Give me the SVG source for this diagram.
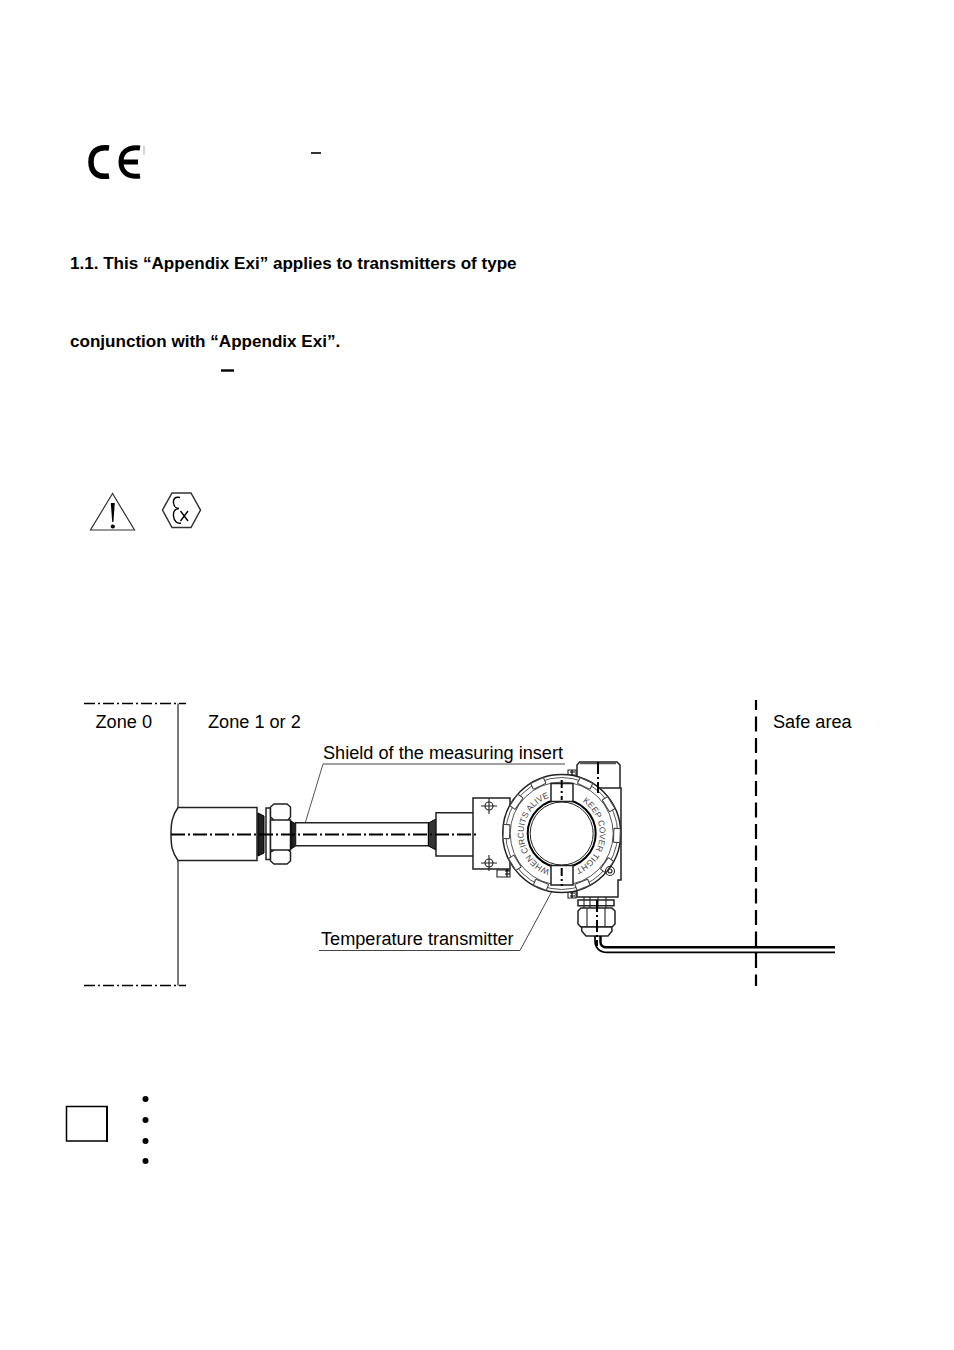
<svg xmlns="http://www.w3.org/2000/svg" width="954" height="1350" viewBox="0 0 954 1350">
<style>
text{font-family:"Liberation Sans",Arial,sans-serif;fill:#000}
.lbl{font-size:18.150px}
.b{font-weight:bold;font-size:17.070px}
.o{fill:#fff;stroke:#222;stroke-width:1.500}
.n{fill:none;stroke:#222;stroke-width:1.100}
.c{fill:none;stroke:#000;stroke-width:2;stroke-dasharray:14 3 2 3}
.cs{fill:none;stroke:#000;stroke-width:1.300;stroke-dasharray:11 3 2 3}
.ring{font-size:8.500px;fill:#444}
.lug{fill:#fff;stroke:#444;stroke-width:1.100}
</style>
<defs>
<rect id="lug" x="-7" y="-58.500" width="14" height="6.500" rx="1"/>
<path id="ringpath" d="M561.700 795.500A38 38 0 1 1 561.700 871.500A38 38 0 1 1 561.700 795.500"/>
</defs>
<rect width="954" height="1350" fill="#fff"/>
<g id="ce-mark">
<path d="M109 148C96 146 91 153 91 162C91 171 96 178 109 176" fill="none" stroke="#000" stroke-width="5.500"/>
<path d="M140 148C127 146 121 153 121 162C121 171 127 178 140 176M121 162H138" fill="none" stroke="#000" stroke-width="5"/>
<path d="M144 146V155" stroke="#bbb" stroke-width="1.200"/>
<path d="M311 153H321" stroke="#000" stroke-width="1.600"/>
</g>
<g id="heading-text">
<text class="b" x="70" y="269">1.1. This “Appendix Exi” applies to transmitters of type</text>
<text class="b" x="70" y="347">conjunction with “Appendix Exi”.</text>
<path d="M221 370.500H234" stroke="#000" stroke-width="2.400"/>
</g>
<g id="warning-icon">
<path d="M112.500 493.500L90.500 530H134.500Z" fill="none" stroke="#333" stroke-width="1.200"/>
<path d="M110.800 503L114.800 503L113.400 522H112.200Z" fill="#000"/>
<circle cx="112.800" cy="526.500" r="2.100" fill="#000"/>
</g>
<g id="ex-icon">
<path d="M172 493H191L200.500 510L191 527.500H172L162.500 510Z" fill="none" stroke="#333" stroke-width="1.500"/>
<path d="M180 497.500C175 496.500 173 499 173.500 503C174 507 177 508.500 179 508.500C175 508.500 173 511.500 173.500 516C174 521 177 524 181 523" fill="none" stroke="#000" stroke-width="1.400"/>
<path d="M180.500 511L188 521M188 511L180.500 521" fill="none" stroke="#000" stroke-width="1.400"/>
</g>
<g id="zone-labels">
<text class="lbl" x="95.500" y="728">Zone 0</text>
<text class="lbl" x="208" y="728">Zone 1 or 2</text>
<text class="lbl" x="773" y="728">Safe area</text>
<text class="lbl" x="323" y="759">Shield of the measuring insert</text>
<text class="lbl" x="321" y="945">Temperature transmitter</text>
</g>
<g id="connectors">
<path d="M84 703.500H186M84 985.500H186" class="cs"/>
<path d="M178 703.500V808M178 861V985.500" fill="none" stroke="#333" stroke-width="1.300"/>
<path d="M756 700V986" fill="none" stroke="#000" stroke-width="2.200" stroke-dasharray="15 6.500" stroke-dashoffset="5"/>
<path d="M323 764H565" fill="none" stroke="#444" stroke-width="1"/>
<path d="M323 764L302.500 832" fill="none" stroke="#555" stroke-width="1"/>
<path d="M319 950.500H520L558 880" fill="none" stroke="#444" stroke-width="1"/>
</g>
<g id="sensor-body">
<path d="M178 807.500H257V860.500H178C172 852 171 846 171 834.500C171 823 172 816 178 807.500Z" class="o"/>
<path d="M258 813L264 816V853L258 856Z" fill="#222" stroke="#000"/>
<rect x="266" y="808" width="4.500" height="51.500" class="o"/>
<path d="M274 804H287L290.500 807V817L288 820H274L270.500 817V807ZM270.500 820H290.500V850H270.500ZM274 850H288L290.500 852V861L287 864H274L270.500 861V852Z" class="o"/>
<path d="M291 821L295.500 824V846L291 849Z" fill="#222" stroke="#000"/>
<path d="M295.500 822.700H428.500V845.700H295.500Z" class="o"/>
<path d="M428.500 823L436 819V850L428.500 846Z" fill="#333" stroke="#000"/>
<path d="M436 812.700H474V856H436Z" class="o"/>
</g>
<g id="transmitter-housing">
<path d="M473 798H510V869H473Z" class="o"/>
<g class="n">
<circle cx="489" cy="806" r="4"/><path d="M481 806H497M489 798V814"/>
<circle cx="489" cy="863" r="4"/><path d="M481 863H497M489 855V871"/>
</g>
<path d="M577 790V765L579.500 762H617L620 765V790Z" class="o"/>
<path d="M580 763H616" stroke="#555" stroke-width="2.500"/>
<path d="M575 788H621V880H618V897H577V880H545V788Z" class="o"/>
<path d="M497 870H510V877H497Z" class="n"/>
<path d="M505 871H510M505 874H510M507 869V877" stroke="#000" stroke-width="1.200"/>
<path d="M568 770H576V778H568ZM568 891H576V898H568Z" class="n"/>
<path d="M570 772H575M570 775H575M572 770V778M570 893H575M570 896H575M572 891V898" stroke="#000" stroke-width="1.200"/>
<circle cx="561.700" cy="833.500" r="59" class="o"/>
<circle cx="561.700" cy="833.500" r="56" fill="none" stroke="#555" stroke-width="1"/>
<circle cx="561.700" cy="833.500" r="51.500" fill="none" stroke="#555" stroke-width="1"/>
<g class="lug">
<use href="#lug" transform="translate(561.700 833.500) rotate(-55)"/>
<use href="#lug" transform="translate(561.700 833.500) rotate(-88)"/>
<use href="#lug" transform="translate(561.700 833.500) rotate(-122)"/>
<use href="#lug" transform="translate(561.700 833.500) rotate(-158)"/>
<use href="#lug" transform="translate(561.700 833.500) rotate(158)"/>
<use href="#lug" transform="translate(561.700 833.500) rotate(125)"/>
<use href="#lug" transform="translate(561.700 833.500) rotate(92)"/>
<use href="#lug" transform="translate(561.700 833.500) rotate(58)"/>
<use href="#lug" transform="translate(561.700 833.500) rotate(25)"/>
<use href="#lug" transform="translate(561.700 833.500) rotate(-25)"/>
</g>
<circle cx="561.700" cy="833.500" r="34" fill="#fff" stroke="#000" stroke-width="2"/>
<circle cx="561.700" cy="833.500" r="31.500" fill="#fff" stroke="#222" stroke-width="1"/>
<path d="M551 783.500H573V801.500H551ZM551 865.500H573V885H551Z" fill="#fff" stroke="#222" stroke-width="1.500"/>
<circle cx="610" cy="871" r="4.500" class="n"/><circle cx="610" cy="871" r="2" class="n"/>
<text class="ring"><textPath href="#ringpath" startOffset="131">WHEN CIRCUITS ALIVE</textPath></text>
<text class="ring"><textPath href="#ringpath" startOffset="22">KEEP COVER TIGHT</textPath></text>
<path d="M578 900H614V905.700H578Z" class="o"/>
<path d="M584 897V908M590 897V908M598 897V908M606 897V908" class="n"/>
<path d="M581 908H612L615 911V924L612 927H581L578 924V911Z" class="o"/>
<path d="M587 908V927M605 908V927" class="n"/>
<path d="M581.700 927H611.700L612 931L608 936H586L581.700 931Z" class="o"/>
</g>
<g id="cable">
<path d="M595 936V941C595 948 600 952.300 607 952.300H835" fill="none" stroke="#000" stroke-width="1.700"/>
<path d="M600.500 936V942C600.500 945 603 947.300 606 947.300H835" fill="none" stroke="#000" stroke-width="2.500"/>
</g>
<g id="centerlines">
<path d="M171 834.500H476" class="c"/>
<path d="M561.700 780V800M561.700 868V886" class="c" style="stroke-dasharray:8 3 2 3"/>
<path d="M598 762V793" class="c" style="stroke-dasharray:12 3 2 3"/>
<path d="M597 900V946" class="c" style="stroke-dasharray:12 3 2 3"/>
</g>
<g id="note-box">
<rect x="66.500" y="1106.500" width="40.500" height="34.500" fill="#fff" stroke="#000" stroke-width="1.500"/>
<path d="M107 1106V1142" stroke="#000" stroke-width="2"/>
</g>
<g id="bullets">
<circle cx="145.500" cy="1099" r="3"/>
<circle cx="145.500" cy="1120" r="3"/>
<circle cx="145.500" cy="1141" r="3"/>
<circle cx="145.500" cy="1161" r="3"/>
</g>
</svg>
